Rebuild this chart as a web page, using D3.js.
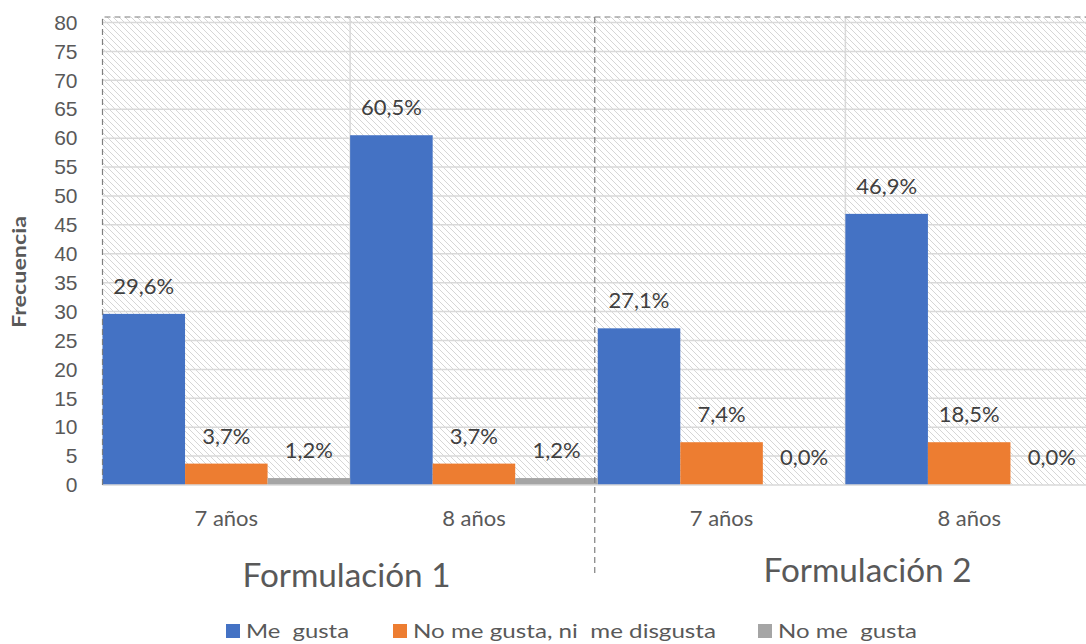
<!DOCTYPE html>
<html>
<head>
<meta charset="utf-8">
<script src="https://cdn.jsdelivr.net/npm/d3@7"></script>
<style>
  body { margin: 0; background: #fff; }
  svg { display: block; font-family: Lato, "Open Sans", "Noto Sans", sans-serif; }
</style>
</head>
<body>
<div id="chart"></div>
<script>
// categories (two levels)
const groups = ["Formulación 1", "Formulación 2"];
const ages = ["7 años", "8 años"];
const categories = ["F1 7", "F1 8", "F2 7", "F2 8"];
const series = ["Me  gusta", "No me gusta, ni  me disgusta", "No me  gusta"];

// bar heights as drawn in the picture
const meGusta = [29.6, 60.5, 27.1, 46.9];
const niNi = [3.7, 3.7, 7.4, 7.4];
const noMeGusta = [1.2, 1.2, 0, 0];

// data labels as printed
const meGustaLabels = ["29,6%", "60,5%", "27,1%", "46,9%"];
const niNiLabels = ["3,7%", "3,7%", "7,4%", "18,5%"];
const noMeGustaLabels = ["1,2%", "1,2%", "0,0%", "0,0%"];

const yTicks = [0, 5, 10, 15, 20, 25, 30, 35, 40, 45, 50, 55, 60, 65, 70, 75, 80];

const colors = ["#4472C4", "#ED7D31", "#A5A5A5"];

let width = 1086;
let height = 644;

let svg = d3.select("#chart")
  .append("svg")
  .attr("width", width)
  .attr("height", height);

let plot_left = 102.5, plot_right = 1093, plot_top = 22.5, plot_bottom = 485;

let x0 = d3.scaleBand().domain(categories).range([plot_left, plot_right]).padding(0);
let x1 = d3.scaleBand().domain(series).range([0, x0.bandwidth()]).padding(0);
let y = d3.scaleLinear().domain([0, 80]).range([plot_bottom, plot_top]);

// hatch pattern for the plot background
let defs = svg.append("defs");
let pat = defs.append("pattern")
  .attr("id", "hatch")
  .attr("patternUnits", "userSpaceOnUse")
  .attr("width", 6)
  .attr("height", 6);
pat.append("path")
  .attr("d", "M-1,-1 L7,7 M-4,2 L2,8 M2,-4 L8,2")
  .attr("stroke", "#d6d6d6")
  .attr("stroke-width", 1);

svg.append("rect")
  .attr("x", plot_left)
  .attr("y", 17)
  .attr("width", width - plot_left)
  .attr("height", plot_bottom - 17)
  .attr("fill", "url(#hatch)");

// horizontal gridlines
svg.append("g")
  .selectAll("line")
  .data(yTicks.filter(d => d > 0))
  .enter()
  .append("line")
  .attr("x1", plot_left)
  .attr("x2", width)
  .attr("y1", d => y(d))
  .attr("y2", d => y(d))
  .attr("stroke", "#d9d9d9")
  .attr("stroke-width", 1.5);

// vertical gridlines inside each formulation
svg.append("g")
  .selectAll("line")
  .data(["F1 8", "F2 8"])
  .enter()
  .append("line")
  .attr("x1", d => x0(d))
  .attr("x2", d => x0(d))
  .attr("y1", 17)
  .attr("y2", plot_bottom)
  .attr("stroke", "#d9d9d9")
  .attr("stroke-width", 1.5);

// bars
let values = [meGusta, niNi, noMeGusta];
let labels = [meGustaLabels, niNiLabels, noMeGustaLabels];
let bars = [];
series.forEach((s, si) => {
  categories.forEach((c, ci) => {
    bars.push({ cat: c, s: s, si: si, v: values[si][ci], label: labels[si][ci] });
  });
});

svg.append("g")
  .selectAll("rect")
  .data(bars)
  .enter()
  .append("rect")
  .attr("x", d => x0(d.cat) + x1(d.s))
  .attr("y", d => y(d.v))
  .attr("width", x1.bandwidth())
  .attr("height", d => y(0) - y(d.v))
  .attr("fill", d => colors[d.si]);

// data labels
svg.append("g")
  .selectAll("text")
  .data(bars)
  .enter()
  .append("text")
  .attr("x", d => x0(d.cat) + x1(d.s) + x1.bandwidth() / 2)
  .attr("y", d => y(d.v) - 20)
  .attr("text-anchor", "middle")
  .attr("font-size", 22)
  .attr("fill", "#404040")
  .text(d => d.label);

// axis baseline
svg.append("line")
  .attr("x1", plot_left)
  .attr("x2", width)
  .attr("y1", plot_bottom)
  .attr("y2", plot_bottom)
  .attr("stroke", "#d9d9d9")
  .attr("stroke-width", 1.5);

// dashed outline of the plot area
svg.append("path")
  .attr("d", `M${plot_left},${plot_bottom} L${plot_left},17 L${width},17`)
  .attr("fill", "none")
  .attr("stroke", "#7f7f7f")
  .attr("stroke-width", 1.2)
  .attr("stroke-dasharray", "6,4");

// dashed separator between formulations
let sep_x = x0("F2 7") - 3;
svg.append("line")
  .attr("x1", sep_x)
  .attr("x2", sep_x)
  .attr("y1", 17)
  .attr("y2", 573)
  .attr("stroke", "#7f7f7f")
  .attr("stroke-width", 1.2)
  .attr("stroke-dasharray", "6,4");

// y axis
svg.append("g")
  .attr("transform", `translate(${plot_left - 25},0)`)
  .call(d3.axisLeft(y).tickValues(yTicks).tickSize(0).tickPadding(0))
  .call(g => g.select(".domain").remove())
  .call(g => g.selectAll("text")
    .attr("font-size", 21)
    .attr("fill", "#595959")
    .attr("font-family", "inherit"));

svg.append("text")
  .attr("transform", "translate(26,272) rotate(-90)")
  .attr("text-anchor", "middle")
  .attr("font-size", 19)
  .attr("font-weight", "bold")
  .attr("fill", "#595959")
  .attr("textLength", 112)
  .attr("lengthAdjust", "spacingAndGlyphs")
  .text("Frecuencia");

// age labels
svg.append("g")
  .selectAll("text")
  .data(categories)
  .enter()
  .append("text")
  .attr("x", d => x0(d) + x0.bandwidth() / 2)
  .attr("y", 526)
  .attr("text-anchor", "middle")
  .attr("font-size", 22)
  .attr("fill", "#595959")
  .text((d, i) => ages[i % 2]);

// formulation labels
let groupX = [346.5, 867.5];
let groupY = [587, 582];
svg.append("g")
  .selectAll("text")
  .data(groups)
  .enter()
  .append("text")
  .attr("x", (d, i) => groupX[i])
  .attr("y", (d, i) => groupY[i])
  .attr("text-anchor", "middle")
  .attr("font-size", 33)
  .attr("fill", "#595959")
  .attr("textLength", 208)
  .attr("lengthAdjust", "spacingAndGlyphs")
  .text(d => d);

// legend
let legendX = [226, 393, 758];
let legendW = [103, 303, 139];
let legend = svg.append("g")
  .selectAll("g")
  .data(series)
  .enter()
  .append("g")
  .attr("transform", (d, i) => `translate(${legendX[i]},624)`);
legend.append("rect")
  .attr("width", 14)
  .attr("height", 14)
  .attr("fill", (d, i) => colors[i]);
legend.append("text")
  .attr("x", 20)
  .attr("y", 14)
  .attr("font-size", 19)
  .attr("fill", "#595959")
  .attr("xml:space", "preserve")
  .style("white-space", "pre")
  .attr("textLength", (d, i) => legendW[i])
  .attr("lengthAdjust", "spacingAndGlyphs")
  .text(d => d);
</script>
</body>
</html>
